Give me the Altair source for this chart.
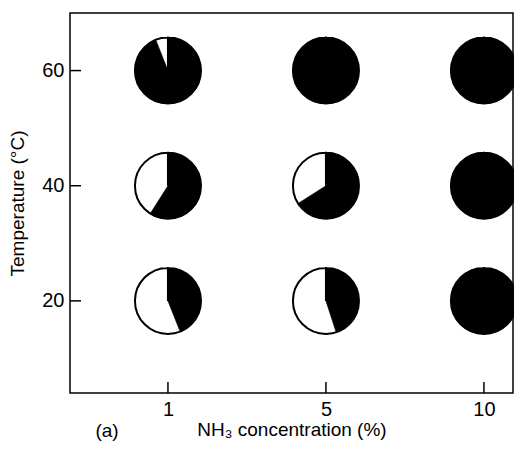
import json
import altair as alt
import pandas as pd

# ---- data ----
conc_labels = ["1", "5", "10"]          # NH3 concentration (%)
temperatures = [20, 40, 60]             # Temperature (°C)
black_frac_c1 = [0.44, 0.59, 0.94]      # black share of each pie at 1 %
black_frac_c5 = [0.45, 0.66, 1.0]       # at 5 %
black_frac_c10 = [1.0, 1.0, 1.0]        # at 10 %

rows = []
for i, (lab, fr) in enumerate(zip(conc_labels, [black_frac_c1, black_frac_c5, black_frac_c10])):
    for t, f in zip(temperatures, fr):
        rows.append({"idx": i, "conc": lab, "temp": t, "black": f, "start": 0.0, "full": 1.0})
df = pd.DataFrame(rows)

FONT = "Liberation Sans"
label_expr = "datum.value == 0 ? %s : datum.value == 1 ? %s : %s" % tuple(json.dumps(s) for s in conc_labels)

xs = alt.Scale(domain=[-0.620, 2.184], nice=False, zero=False)
ys = alt.Scale(domain=[4, 70], nice=False, zero=False)
th = alt.Scale(domain=[0, 1], range=[0, 6.283185307])

x_enc = alt.X("idx:Q", scale=xs, axis=alt.Axis(
    values=[0, 1, 2], labelExpr=label_expr, title="NH₃ concentration (%)",
    labelPadding=6, titlePadding=1))
y_enc = alt.Y("temp:Q", scale=ys, axis=alt.Axis(
    values=temperatures, title="Temperature (°C)", labelPadding=6, titlePadding=14))

base = alt.Chart(df).encode(x=x_enc, y=y_enc)

outline = base.mark_arc(outerRadius=33, fill="white", stroke="black", strokeWidth=2).encode(
    theta=alt.Theta("start:Q", scale=th), theta2="full:Q")
black = base.mark_arc(outerRadius=33, fill="black", stroke="black", strokeWidth=0.6).encode(
    theta=alt.Theta("start:Q", scale=th), theta2="black:Q")

tick_df = pd.DataFrame({"idx": [0, 1, 2], "temp": temperatures})
xticks = alt.Chart(tick_df).mark_rule(color="black", strokeWidth=1.5).encode(
    x=alt.X("idx:Q", scale=xs), y=alt.value(369), y2=alt.value(380))
yticks = alt.Chart(tick_df).mark_rule(color="black", strokeWidth=1.5).encode(
    y=alt.Y("temp:Q", scale=ys), x=alt.value(0), x2=alt.value(11))

panel = alt.Chart(pd.DataFrame({"t": ["(a)"]})).mark_text(
    font=FONT, fontSize=19, align="center", baseline="middle", color="black").encode(
    text="t:N", x=alt.value(37), y=alt.value(418))

chart = alt.layer(outline, black, xticks, yticks, panel).properties(
    width=443, height=380,
    autosize=alt.AutoSizeParams(type="none"),
    padding={"left": 62, "top": 5, "right": 1, "bottom": 49},
    background="white",
).configure_view(
    stroke="black", strokeWidth=1.5
).configure_axis(
    domain=False, grid=False, ticks=False, tickSize=0,
    labelFont=FONT, labelFontSize=20, labelColor="black",
    titleFont=FONT, titleFontSize=19, titleFontWeight="normal", titleColor="black",
)

chart.save("out.html", embed_options={"renderer": "svg", "actions": False})
